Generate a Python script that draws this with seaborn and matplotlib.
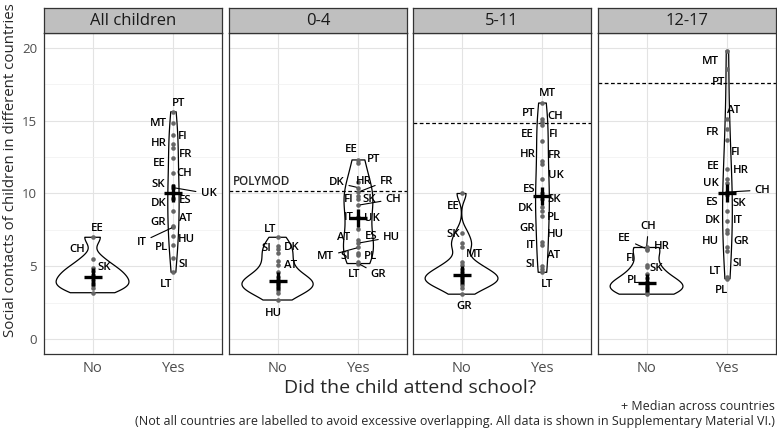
import numpy as np
import pandas as pd
import seaborn as sns
import matplotlib
matplotlib.use('Agg')
import matplotlib.pyplot as plt

sns.set_theme(style="whitegrid")
plt.rcParams['font.family'] = ['Open Sans', 'DejaVu Sans']

panels = ['All children', '0-4', '5-11', '12-17']
polymod = [None, 10.2, 14.85, 17.6]
order = ['No', 'Yes']

# country mean contacts, children not attending school
all_no_val = [7.0, 5.5, 4.9, 4.7, 4.4, 4.1, 3.9, 3.7, 3.5, 3.2]
all_no_lab = ['EE', 'CH', 'SK', '', '', '', '', '', '', '']
a04_no_val = [7.0, 6.4, 6.2, 5.9, 5.4, 5.1, 4.6, 4.3, 4.1, 3.95, 3.9, 3.8, 3.7, 3.6, 3.5, 3.4, 3.2, 2.7]
a04_no_lab = ['LT', 'SI', 'DK', '', 'AT', '', '', '', '', '', '', '', '', '', '', '', '', 'HU']
a511_no_val = [10.0, 7.3, 6.6, 6.3, 5.3, 5.1, 4.8, 4.6, 4.4, 4.3, 4.2, 4.1, 4.0, 3.9, 3.7, 3.5, 3.1]
a511_no_lab = ['EE', 'SK', '', 'MT', '', '', '', '', '', '', '', '', '', '', '', '', 'GR']
a1217_no_val = [6.3, 6.2, 6.15, 5.1, 4.95, 4.45, 4.2, 3.95, 3.85, 3.7, 3.6, 3.5, 3.45, 3.3, 3.2, 3.1]
a1217_no_lab = ['CH', 'EE', 'HR', 'FI', 'SK', 'PL', '', '', '', '', '', '', '', '', '', '']

# children attending school (all countries labelled)
all_yes_lab = ['PT', 'MT', 'FI', 'HR', 'FR', 'EE', 'CH', 'SK', 'UK', 'ES', 'DK', 'AT', 'GR', 'IT', 'HU', 'PL', 'SI', 'LT']
all_yes_val = [15.6, 14.8, 14.0, 13.4, 13.1, 12.4, 11.4, 10.5, 10.4, 9.7, 9.6, 8.8, 7.8, 7.7, 7.1, 6.5, 5.6, 4.6]
a04_yes_lab = ['EE', 'PT', 'HR', 'DK', 'FR', 'FI', 'SK', 'CH', 'IT', 'UK', 'AT', 'ES', 'HU', 'MT', 'SI', 'PL', 'LT', 'GR']
a04_yes_val = [12.3, 12.1, 10.8, 10.4, 10.1, 9.8, 9.6, 9.2, 8.4, 8.3, 7.6, 6.8, 6.6, 6.3, 5.9, 5.8, 5.3, 5.2]
a511_yes_lab = ['MT', 'CH', 'PT', 'EE', 'FI', 'HR', 'FR', 'UK', 'ES', 'SK', 'DK', 'PL', 'GR', 'HU', 'IT', 'AT', 'SI', 'LT']
a511_yes_val = [16.2, 15.1, 14.9, 14.7, 13.6, 12.2, 12.0, 11.0, 10.0, 9.6, 9.1, 8.8, 8.45, 6.7, 6.5, 5.0, 4.8, 4.6]
a1217_yes_lab = ['MT', 'PT', 'AT', 'FR', 'FI', 'EE', 'HR', 'UK', 'CH', 'ES', 'SK', 'DK', 'IT', 'HU', 'GR', 'SI', 'LT', 'PL']
a1217_yes_val = [19.8, 18.5, 15.1, 14.4, 13.7, 11.7, 11.0, 10.7, 10.1, 9.9, 8.8, 8.1, 7.5, 7.3, 6.3, 6.05, 4.3, 4.15]

no_vals = [all_no_val, a04_no_val, a511_no_val, a1217_no_val]
no_labs = [all_no_lab, a04_no_lab, a511_no_lab, a1217_no_lab]
yes_vals = [all_yes_val, a04_yes_val, a511_yes_val, a1217_yes_val]
yes_labs = [all_yes_lab, a04_yes_lab, a511_yes_lab, a1217_yes_lab]

rows = []
for p, nv, nl, yv, yl in zip(panels, no_vals, no_labs, yes_vals, yes_labs):
    rows += [(p, 'No', c, v) for c, v in zip(nl, nv)]
    rows += [(p, 'Yes', c, v) for c, v in zip(yl, yv)]
df = pd.DataFrame(rows, columns=['panel', 'school', 'country', 'contacts'])

# violin widths (No, Yes) as drawn in the figure
vwidth = {'All children': (0.9, 0.14), '0-4': (0.88, 0.37), '5-11': (0.9, 0.17), '12-17': (0.9, 0.12)}

# label offsets in pixels (dx, dy) from the point
lab_off = {
    ('All children', 'No'): {'EE': (5, 8.5), 'CH': (-15, 10), 'SK': (12, 0)},
    ('All children', 'Yes'): {'PT': (5, 8), 'MT': (-15, 0), 'FI': (9, -1), 'HR': (-15, 0), 'FR': (12, -6),
                              'EE': (-14, -5), 'CH': (11, 0), 'SK': (-15, 2), 'UK': (35, -6), 'ES': (12, -3),
                              'DK': (-15, -4), 'AT': (12, -7), 'GR': (-15, 3), 'IT': (-32, -15), 'HU': (13, -4),
                              'PL': (-12, -3), 'SI': (10, -7), 'LT': (-7, -12)},
    ('0-4', 'No'): {'LT': (-7, 8), 'SI': (-11, -2), 'DK': (14, 1), 'AT': (13, -5), 'HU': (-4, -13)},
    ('0-4', 'Yes'): {'EE': (-7, 10), 'PT': (15, 3), 'DK': (-22, 5), 'HR': (5, 0), 'FR': (28, 11), 'FI': (-10, -3),
                     'SK': (11, 0), 'CH': (35, 6), 'IT': (-10, -1), 'UK': (13, 0), 'AT': (-15, -9), 'ES': (13, 4),
                     'HU': (33, 6), 'MT': (-33, -9), 'SI': (-13, -3), 'PL': (12, -2), 'LT': (-4, -12),
                     'GR': (20, -11)},
    ('5-11', 'No'): {'EE': (-8, -13), 'SK': (-8, -2), 'MT': (13, -7), 'GR': (3, -12)},
    ('5-11', 'Yes'): {'MT': (5, 9.5), 'PT': (-14, 9), 'CH': (13, 3), 'EE': (-15, -10), 'FI': (11, 6),
                      'HR': (-15, 7), 'FR': (12, 9), 'UK': (13, 3), 'ES': (-13, 4), 'SK': (12, 0), 'DK': (-17, -2),
                      'PL': (11, -6), 'GR': (-15, -12), 'HU': (13, 7), 'IT': (-12, -1), 'AT': (11, 11),
                      'SI': (-12, 5), 'LT': (5, -12)},
    ('12-17', 'No'): {'CH': (2, 21), 'EE': (-22, 10), 'HR': (15, 3), 'FI': (-16, 6), 'SK': (10, -1),
                      'PL': (-13, -6)},
    ('12-17', 'Yes'): {'MT': (-17, -11), 'PT': (-9, -13), 'AT': (6, 9), 'FR': (-15, -3), 'FI': (8, -13),
                       'EE': (-14, 2), 'HR': (13, 8), 'UK': (-17, 0), 'CH': (35, 2), 'ES': (-15, -8),
                       'SK': (12, 8), 'DK': (-15, 1), 'IT': (10, 9), 'HU': (-17, -9), 'GR': (14, 6),
                       'SI': (10, -12), 'LT': (-12, 5), 'PL': (-6, -12)},
}


def nrd0(v):
    v = np.asarray(v)
    s = v.std(ddof=1)
    iqr = np.subtract(*np.percentile(v, [75, 25]))
    lo = min(s, iqr / 1.34) if iqr > 0 else s
    return 0.9 * lo * len(v) ** -0.2


W, H = 777, 434
fig = plt.figure(figsize=(W / 100, H / 100), dpi=100)
lefts = [44, 229, 413, 598]
pw = 178
top, bottom = 33, 354

for i, p in enumerate(panels):
    ax = fig.add_axes([lefts[i] / W, (H - bottom) / H, pw / W, (bottom - top) / H])
    sub = df[df.panel == p]
    for school, wd in zip(order, vwidth[p]):
        d = sub[sub.school == school]
        v = d.contacts.to_numpy()
        sns.violinplot(data=d, x='school', y='contacts', order=order, cut=0,
                       bw_method=nrd0(v) / v.std(ddof=1), width=wd, fill=False,
                       color='black', linewidth=0.9, inner=None, ax=ax)
    sns.stripplot(data=sub, x='school', y='contacts', order=order, jitter=False,
                  color='#666666', size=3.3, linewidth=0, ax=ax, zorder=3)
    sns.pointplot(data=sub, x='school', y='contacts', order=order, estimator='median',
                  errorbar=None, color='black', marker='+', linestyle='none',
                  markersize=12.5, markeredgewidth=2.4, ax=ax, zorder=4)

    for _, r in sub.iterrows():
        if not r.country:
            continue
        dx, dy = lab_off[(p, r.school)][r.country]
        xi = order.index(r.school)
        arrow = None
        if np.hypot(dx, dy) > 20.5:
            arrow = dict(arrowstyle='-', color='black', lw=0.8, shrinkA=1, shrinkB=1.5)
        ax.annotate(r.country, xy=(xi, r.contacts), xytext=(dx, dy), textcoords='offset pixels',
                    ha='center', va='center', fontsize=8.2, fontweight='semibold', color='black',
                    arrowprops=arrow, zorder=5)

    if polymod[i] is not None:
        ax.axhline(polymod[i], ls=(0, (3, 2)), color='black', lw=0.9, zorder=2)
    if p == '0-4':
        ax.annotate('POLYMOD', xy=(-0.55, polymod[i]), xytext=(0, 9), textcoords='offset pixels',
                    ha='left', va='center', fontsize=8.4, fontweight='semibold')

    ax.set_xlim(-0.6, 1.6)
    ax.set_ylim(-1, 21)
    ax.set_yticks([0, 5, 10, 15, 20])
    ax.set_yticks([2.5, 7.5, 12.5, 17.5], minor=True)
    ax.grid(which='major', color='#e3e3e3', lw=0.8)
    ax.grid(which='minor', color='#f0f0f0', lw=0.5)
    ax.set_axisbelow(True)
    ax.set_xlabel('')
    ax.set_ylabel('')
    ax.tick_params(axis='both', which='major', length=3, width=0.8, color='#333333',
                   labelcolor='#4d4d4d', pad=2)
    ax.tick_params(axis='x', labelsize=10.5)
    ax.tick_params(axis='y', labelsize=9.5)
    ax.tick_params(axis='y', which='minor', length=0)
    if i > 0:
        ax.set_yticklabels([])
    for s in ax.spines.values():
        s.set_color('#333333')
        s.set_linewidth(0.9)

    sax = fig.add_axes([lefts[i] / W, (H - top) / H, pw / W, 25 / H])
    sax.set_facecolor('#bfbfbf')
    sax.set_xticks([])
    sax.set_yticks([])
    sax.grid(False)
    for s in sax.spines.values():
        s.set_color('#333333')
        s.set_linewidth(0.9)
    sax.text(0.5, 0.47, p, ha='center', va='center', fontsize=12, color='#1a1a1a',
             transform=sax.transAxes)

fig.text(11 / W, (H - 170) / H, 'Social contacts of children in different countries', rotation=90,
         ha='center', va='center', fontsize=10.8)
fig.text(410 / W, (H - 388) / H, 'Did the child attend school?', ha='center', va='center', fontsize=14)
fig.text(775 / W, (H - 406) / H, '+ Median across countries', ha='right', va='center', fontsize=9)
fig.text(775 / W, (H - 422) / H,
         '(Not all countries are labelled to avoid excessive overlapping. All data is shown in Supplementary Material VI.)',
         ha='right', va='center', fontsize=9)

fig.savefig('out.png', dpi=100)
